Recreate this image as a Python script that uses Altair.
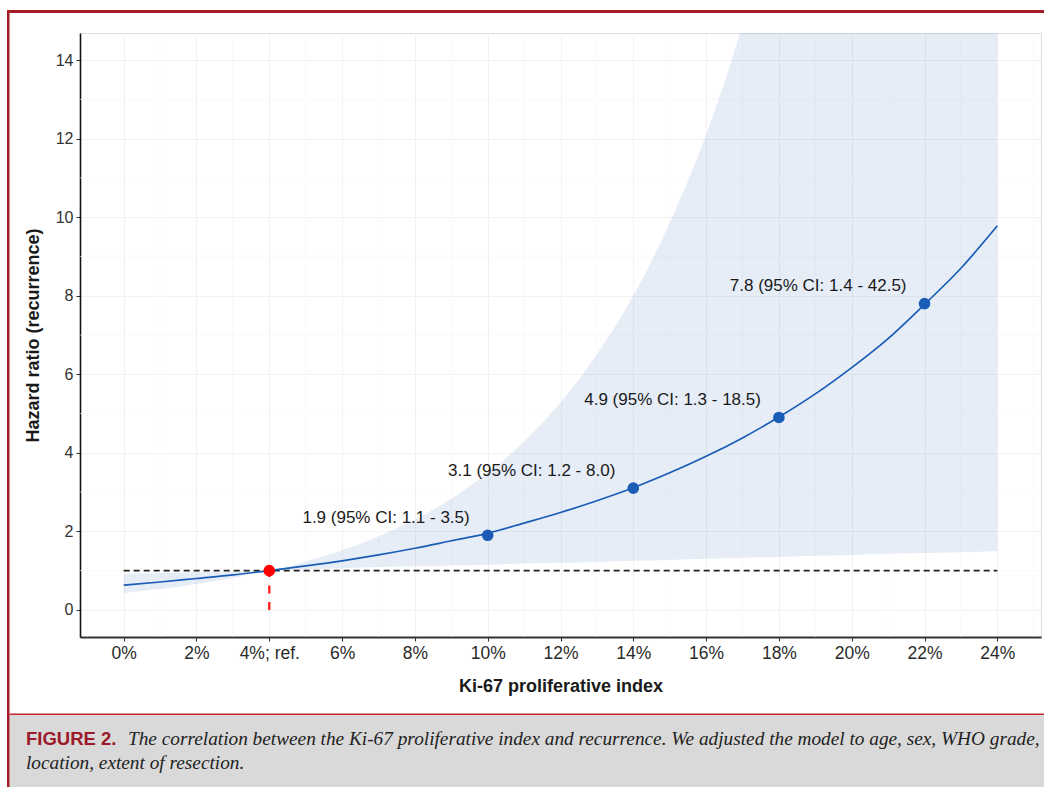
import altair as alt
import pandas as pd

# Ki-67 index (%) on a 1-point grid, fitted hazard ratio and its 95% band
ki67 = list(range(25))
hazard = [0.63, 0.71, 0.80, 0.89, 1.00, 1.12, 1.25, 1.40, 1.57, 1.76, 1.95,
          2.21, 2.48, 2.78, 3.11, 3.49, 3.91, 4.38, 4.91, 5.50, 6.17, 6.91,
          7.78, 8.70, 9.78]
band_low = [0.43, 0.53, 0.66, 0.81, 1.00, 1.03, 1.06, 1.09, 1.11, 1.13, 1.15,
            1.18, 1.20, 1.22, 1.25, 1.27, 1.30, 1.33, 1.35, 1.38, 1.40, 1.43,
            1.45, 1.47, 1.50]
band_high = [0.92, 0.94, 0.96, 0.98, 1.00, 1.23, 1.52, 1.87, 2.30, 2.83, 3.49,
             4.29, 5.28, 6.51, 8.00, 9.86, 12.1, 14.9, 18.4, 22.6, 27.9, 34.3,
             42.3, 52.0, 64.0]

# Highlighted estimates
pt_x = [10, 14, 18, 22]
pt_hr = [1.9, 3.1, 4.9, 7.8]
pt_lo = [1.1, 1.2, 1.3, 1.4]
pt_hi = ["3.5", "8.0", "18.5", "42.5"]

ref_x = 4
ref_hr = 1.0

x_ticks = [0, 2, 4, 6, 8, 10, 12, 14, 16, 18, 20, 22, 24]
y_ticks = [0, 2, 4, 6, 8, 10, 12, 14]
x_minor = [-1, 1, 3, 5, 7, 9, 11, 13, 15, 17, 19, 21, 23, 25]
y_minor = [1, 3, 5, 7, 9, 11, 13]

caption_head = "FIGURE 2."
caption_line1 = ("The correlation between the Ki-67 proliferative index and recurrence. "
                 "We adjusted the model to age, sex, WHO grade,")
caption_line2 = "location, extent of resection."

BLUE = "#1a5cb6"
DARK_RED = "#a31d27"
FONT = "Liberation Sans"

curve = pd.DataFrame({"x": ki67, "hr": hazard, "lo": band_low, "hi": band_high})
points = pd.DataFrame({"x": pt_x, "hr": pt_hr})
points["label"] = [f"{h} (95% CI: {l} - {u})" for h, l, u in zip(pt_hr, pt_lo, pt_hi)]
ref = pd.DataFrame({"x": [ref_x], "hr": [ref_hr], "x0": [ki67[0]], "x1": [ki67[-1]], "y0": [0]})

xs = alt.Scale(domain=[-1.2, 25.2], nice=False, zero=False)
ys = alt.Scale(domain=[-0.69, 14.69], nice=False, zero=False)

x_axis = alt.Axis(values=x_ticks, title="Ki-67 proliferative index",
                  labelExpr="datum.value == 4 ? '4%; ref.' : datum.value + '%'")
y_axis = alt.Axis(values=y_ticks, title="Hazard ratio (recurrence)")

base = alt.Chart(curve)

# ggplot-style minor grid lines
minor_v = alt.Chart(pd.DataFrame({"x": x_minor})).mark_rule(
    color="#f6f6f6", strokeWidth=0.6).encode(x=alt.X("x:Q", scale=xs))
minor_h = alt.Chart(pd.DataFrame({"y": y_minor})).mark_rule(
    color="#f6f6f6", strokeWidth=0.6).encode(y=alt.Y("y:Q", scale=ys))

band = base.mark_area(color=BLUE, opacity=0.11, clip=True, interpolate="monotone").encode(
    x=alt.X("x:Q", scale=xs, axis=x_axis),
    y=alt.Y("lo:Q", scale=ys, axis=y_axis),
    y2="hi:Q",
)

ref_line = alt.Chart(ref).mark_rule(color="#222222", strokeWidth=1.8,
                                    strokeDash=[6, 4]).encode(
    x=alt.X("x0:Q", scale=xs), x2="x1:Q", y=alt.Y("hr:Q", scale=ys))

ref_drop = alt.Chart(ref).mark_rule(color="#ff1a1a", strokeWidth=2.3,
                                    strokeDash=[8, 8.5]).encode(
    x=alt.X("x:Q", scale=xs), y=alt.Y("y0:Q", scale=ys), y2="hr:Q")

line = base.mark_line(color=BLUE, strokeWidth=1.7, interpolate="monotone").encode(
    x=alt.X("x:Q", scale=xs), y=alt.Y("hr:Q", scale=ys))

dots = alt.Chart(points).mark_circle(color=BLUE, size=135, opacity=1).encode(
    x=alt.X("x:Q", scale=xs), y=alt.Y("hr:Q", scale=ys))

ref_dot = alt.Chart(ref).mark_circle(color="#ff0000", size=135, opacity=1).encode(
    x=alt.X("x:Q", scale=xs), y=alt.Y("hr:Q", scale=ys))

labels = alt.Chart(points).mark_text(
    align="right", baseline="middle", dx=-18, dy=-17.5,
    font=FONT, fontSize=17, color="#1a1a1a").encode(
    x=alt.X("x:Q", scale=xs), y=alt.Y("hr:Q", scale=ys), text="label:N")

# Journal frame and caption band around the plot
one = alt.Data(values=[{}])
frame_top = alt.Chart(one).mark_rect(color=DARK_RED).encode(
    x=alt.value(-73), x2=alt.value(964), y=alt.value(-23), y2=alt.value(-20))
frame_left = alt.Chart(one).mark_rect(color=DARK_RED).encode(
    x=alt.value(-73), x2=alt.value(-70.5), y=alt.value(-23), y2=alt.value(754))
caption_bg = alt.Chart(one).mark_rect(color="#d9d9d9").encode(
    x=alt.value(-70.5), x2=alt.value(964), y=alt.value(682), y2=alt.value(754))
caption_rule = alt.Chart(one).mark_rect(color="#c0262e").encode(
    x=alt.value(-70.5), x2=alt.value(964), y=alt.value(680.5), y2=alt.value(682))
cap_head = alt.Chart(one).mark_text(
    text=caption_head, align="left", baseline="alphabetic", font=FONT,
    fontSize=18.5, fontWeight=700, color="#9b1b2b").encode(
    x=alt.value(-54), y=alt.value(712))
cap_l1 = alt.Chart(one).mark_text(
    text=caption_line1, align="left", baseline="alphabetic", font="Liberation Serif",
    fontSize=19.3, fontStyle="italic", color="#222222").encode(
    x=alt.value(48), y=alt.value(712))
cap_l2 = alt.Chart(one).mark_text(
    text=caption_line2, align="left", baseline="alphabetic", font="Liberation Serif",
    fontSize=19.3, fontStyle="italic", color="#222222").encode(
    x=alt.value(-54), y=alt.value(736))

chart = alt.layer(
    minor_v, minor_h, band, ref_line, ref_drop, line, dots, ref_dot, labels,
    caption_bg, caption_rule, frame_top, frame_left, cap_head, cap_l1, cap_l2,
).properties(
    width=961, height=604,
    autosize=alt.AutoSizeParams(type="none"),
    padding={"left": 80, "top": 33, "right": 3, "bottom": 150},
    background="white",
).configure_view(
    stroke=None
).configure(
    font=FONT
).configure_axis(
    grid=True, gridColor="#f0f0f0", gridWidth=0.9,
    titleFontSize=18, titleFontWeight="bold", titleColor="#1a1a1a",
    titleFont=FONT, labelFont=FONT,
).configure_axisX(
    labelFontSize=17.5, labelColor="#2b2b2b", labelPadding=3,
    tickSize=4, tickColor="#333333", tickWidth=1.1,
    domainColor="#333333", domainWidth=2,
    titleX=480.5, titleY=49, titleBaseline="middle",
).configure_axisY(
    labelFontSize=16, labelColor="#333333", labelPadding=3,
    tickSize=4, tickColor="#333333", tickWidth=1,
    domainColor="#111111", domainWidth=1.6,
    titleX=-47, titleY=302, titleBaseline="middle", titleAlign="center",
)

chart.save("out.html", embed_options={"renderer": "svg", "actions": False})
